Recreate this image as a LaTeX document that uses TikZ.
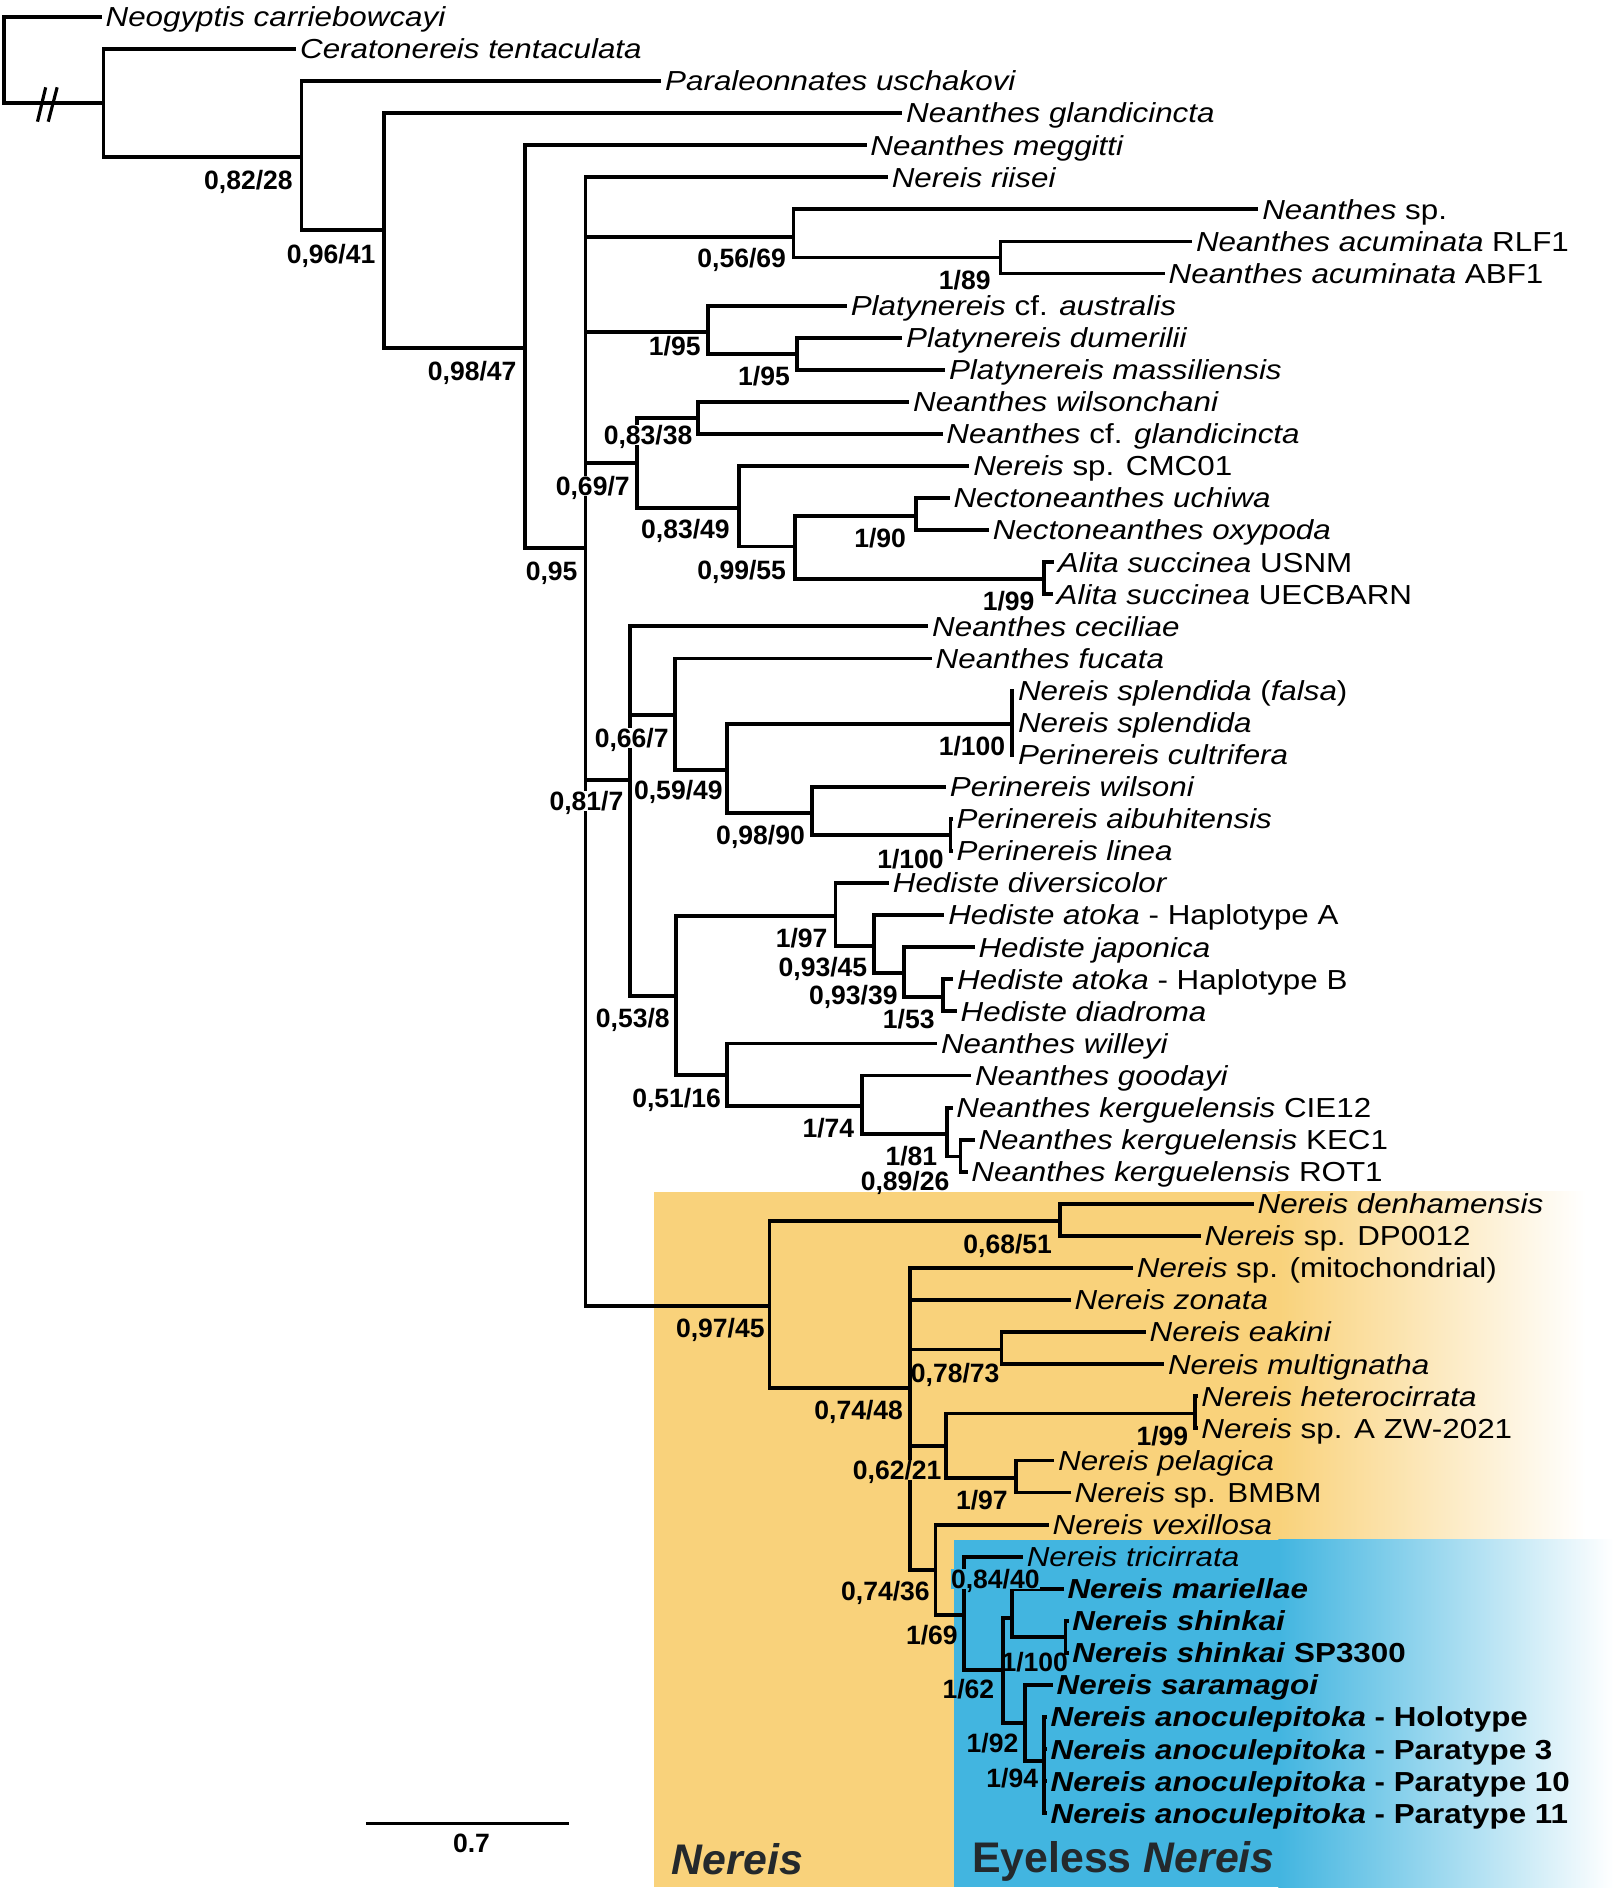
\documentclass[tikz,border=0pt]{standalone}
\usepackage{fontspec}
\setmainfont{Liberation Sans}[FakeStretch=1.14]
\newfontfamily\plainsans{Liberation Sans}
\definecolor{nereisorange}{HTML}{F9D27B}
\definecolor{eyelessblue}{HTML}{42B5E0}
\definecolor{cladeink}{HTML}{24292C}
\newcommand{\taxfont}{\fontsize{22.8}{24}\selectfont\itshape}
\newcommand{\suppfont}{\plainsans\bfseries\fontsize{22}{24}\selectfont}
\newcommand{\cladefont}{\plainsans\bfseries\fontsize{35.5}{38}\selectfont}

\begin{document}
\begin{tikzpicture}[x=1pt, y=-1pt,
  br/.style={line width=3.2pt},
  taxon/.style={anchor=west, inner xsep=3pt, inner ysep=0pt, text height=16.3pt,
                text depth=0pt, font=\taxfont},
  supp/.style={inner sep=0.4pt, text height=15.8pt, text depth=0pt, font=\suppfont},
  clade/.style={anchor=base west, inner sep=0pt, text=cladeink, font=\cladefont}
]
\useasboundingbox (0,0) rectangle (1338,1568);

% clade backgrounds
\fill[nereisorange] (542.4,988) rectangle (1061,1565);
\shade[left color=nereisorange, right color=white] (1060,988) rectangle (1315,1565);
\fill[eyelessblue] (791,1276.6) rectangle (1061,1565);
\shade[left color=eyelessblue, right color=white] (1060,1276.6) rectangle (1338,1565);

% taxa
\node[taxon] (neo)   at (84.4,14)      {Neogyptis carriebowcayi};
\node[taxon] (cera)  at (245.7,40.6)   {Ceratonereis tentaculata};
\node[taxon] (para)  at (548.4,67.2)   {Paraleonnates uschakovi};
\node[taxon] (gland) at (748.2,93.8)   {Neanthes glandicincta};
\node[taxon] (megg)  at (718.6,120.4)  {Neanthes meggitti};
\node[taxon] (riis)  at (736.3,147)    {Nereis riisei};
\node[taxon] (nsp)   at (1043.5,173.6) {Neanthes \textup{sp.}};
\node[taxon] (acuR)  at (988.5,200.2)  {Neanthes acuminata \textup{RLF1}};
\node[taxon] (acuA)  at (965.9,226.8)  {Neanthes acuminata \textup{ABF1}};
\node[taxon] (plaA)  at (702.3,253.4)  {Platynereis \textup{cf.} australis};
\node[taxon] (plaD)  at (748.2,280)    {Platynereis dumerilii};
\node[taxon] (plaM)  at (783.7,306.6)  {Platynereis massiliensis};
\node[taxon] (wils)  at (754,333.2)    {Neanthes wilsonchani};
\node[taxon] (cfgl)  at (781.6,359.8)  {Neanthes \textup{cf.} glandicincta};
\node[taxon] (cmc)   at (803.8,386.4)  {Nereis \textup{sp. CMC01}};
\node[taxon] (uchi)  at (787.5,413)    {Nectoneanthes uchiwa};
\node[taxon] (oxyp)  at (820,439.6)    {Nectoneanthes oxypoda};
\node[taxon] (aliU)  at (874,466.2)    {Alita succinea \textup{USNM}};
\node[taxon] (aliE)  at (873,492.8)    {Alita succinea \textup{UECBARN}};
\node[taxon] (ceci)  at (769.8,519.4)  {Neanthes ceciliae};
\node[taxon] (fuca)  at (772.7,546)    {Neanthes fucata};
\node[taxon] (splF)  at (841,572.6)    {Nereis splendida \textup{(}falsa\textup{)}};
\node[taxon] (splE)  at (841,599.2)    {Nereis splendida};
\node[taxon] (cult)  at (841,625.8)    {Perinereis cultrifera};
\node[taxon] (pwil)  at (784.5,652.4)  {Perinereis wilsoni};
\node[taxon] (aibu)  at (790,679)      {Perinereis aibuhitensis};
\node[taxon] (plin)  at (790,705.6)    {Perinereis linea};
\node[taxon] (dive)  at (737.2,732.2)  {Hediste diversicolor};
\node[taxon] (atoA)  at (783.1,758.8)  {Hediste atoka \textup{- Haplotype A}};
\node[taxon] (japo)  at (808.2,785.4)  {Hediste japonica};
\node[taxon] (atoB)  at (790.5,812)    {Hediste atoka \textup{- Haplotype B}};
\node[taxon] (diad)  at (793.4,838.6)  {Hediste diadroma};
\node[taxon] (wlly)  at (777.1,865.2)  {Neanthes willeyi};
\node[taxon] (good)  at (805.3,891.8)  {Neanthes goodayi};
\node[taxon] (kCIE)  at (789.9,918.4)  {Neanthes kerguelensis \textup{CIE12}};
\node[taxon] (kKEC)  at (808.2,945)    {Neanthes kerguelensis \textup{KEC1}};
\node[taxon] (kROT)  at (802.3,971.6)  {Neanthes kerguelensis \textup{ROT1}};
\node[taxon] (denh)  at (1039.6,998.2) {Nereis denhamensis};
\node[taxon] (dp12)  at (995.6,1024.8) {Nereis \textup{sp. DP0012}};
\node[taxon] (mito)  at (939.5,1051.4) {Nereis \textup{sp. (mitochondrial)}};
\node[taxon] (zona)  at (887.9,1078)   {Nereis zonata};
\node[taxon] (eaki)  at (950.1,1104.6) {Nereis eakini};
\node[taxon] (mult)  at (965.3,1131.2) {Nereis multignatha};
\node[taxon] (hete)  at (993,1157.8)   {Nereis heterocirrata};
\node[taxon] (zw21)  at (993,1184.4)   {Nereis \textup{sp. A ZW-2021}};
\node[taxon] (pela)  at (874.2,1211)   {Nereis pelagica};
\node[taxon] (bmbm)  at (887.9,1237.6) {Nereis \textup{sp. BMBM}};
\node[taxon] (vexi)  at (869.7,1264.2) {Nereis vexillosa};
\node[taxon] (tric)  at (848.2,1290.8) {Nereis tricirrata};
\node[taxon] (mari)  at (882,1317.4)   {\bfseries Nereis mariellae};
\node[taxon] (shin)  at (886,1344)     {\bfseries Nereis shinkai};
\node[taxon] (shSP)  at (886,1370.6)   {\bfseries Nereis shinkai \textup{SP3300}};
\node[taxon] (sara)  at (873,1397.2)   {\bfseries Nereis saramagoi};
\node[taxon] (holo)  at (868,1423.8)   {\bfseries Nereis anoculepitoka \textup{- Holotype}};
\node[taxon] (pt3)   at (868,1450.4)   {\bfseries Nereis anoculepitoka \textup{- Paratype 3}};
\node[taxon] (pt10)  at (868,1477)     {\bfseries Nereis anoculepitoka \textup{- Paratype 10}};
\node[taxon] (pt11)  at (868,1503.6)   {\bfseries Nereis anoculepitoka \textup{- Paratype 11}};

% internal nodes
\coordinate (root)   at (3.6,50);
\coordinate (nout)   at (85.8,85.7);
\coordinate (n8228)  at (250,129.9);
\coordinate (n9641)  at (318.2,190.7);
\coordinate (n9847)  at (435.5,288.8);
\coordinate (n95)    at (485.5,454.6);
\coordinate (n5669)  at (658,196.2);
\coordinate (n189)   at (829.6,213.5);
\coordinate (n195a)  at (586.8,275);
\coordinate (n195b)  at (660.8,293.3);
\coordinate (n697)   at (527.9,384.1);
\coordinate (n8338)  at (578.8,346.5);
\coordinate (n8349)  at (612.8,421.4);
\coordinate (n9955)  at (659.3,453.2);
\coordinate (n190)   at (759.4,427.8);
\coordinate (n199a)  at (866,480);
\coordinate (n817)   at (522.6,646.6);
\coordinate (n667)   at (559.5,592.7);
\coordinate (n5949)  at (602.5,638.3);
\coordinate (n1100a) at (839.3,600);
\coordinate (n9890)  at (673.5,674.3);
\coordinate (n1100b) at (788.1,692.3);
\coordinate (n538)   at (560.4,826.2);
\coordinate (n197a)  at (692.8,759.4);
\coordinate (n9345)  at (724.7,784.2);
\coordinate (n9339)  at (749.9,806.9);
\coordinate (n153)   at (781.6,826.5);
\coordinate (n5116)  at (603.1,891.2);
\coordinate (n174)   at (715,916.9);
\coordinate (n181)   at (785.1,940.3);
\coordinate (n8926)  at (796.4,959);
\coordinate (n9745)  at (638,1082.7);
\coordinate (n6851)  at (878.8,1012.5);
\coordinate (n7448)  at (754.3,1150.9);
\coordinate (n7873)  at (830.4,1119);
\coordinate (n6221)  at (784.5,1199.3);
\coordinate (n199b)  at (991.1,1172);
\coordinate (n197b)  at (842.3,1225.5);
\coordinate (n7436)  at (775.7,1301.5);
\coordinate (n169)   at (799.3,1338.8);
\coordinate (n162)   at (831.9,1384.4);
\coordinate (n8440)  at (839.3,1341.6);
\coordinate (n1100c) at (883.5,1357.3);
\coordinate (n192)   at (849.7,1428.6);
\coordinate (n194)   at (866,1460);

% branches
\draw[br] (root) |- (neo.west) (root) |- (nout);
\draw[br] (nout) |- (cera.west) (nout) |- (n8228);
\draw[br] (n8228) |- (para.west) (n8228) |- (n9641);
\draw[br] (n9641) |- (gland.west) (n9641) |- (n9847);
\draw[br] (n9847) |- (megg.west) (n9847) |- (n95);
\draw[br] (n95) |- (riis.west) (n95) |- (n5669) (n95) |- (n195a) (n95) |- (n697)
  (n95) |- (n817) (n95) |- (n9745);
\draw[br] (n5669) |- (nsp.west) (n5669) |- (n189);
\draw[br] (n189) |- (acuR.west) (n189) |- (acuA.west);
\draw[br] (n195a) |- (plaA.west) (n195a) |- (n195b);
\draw[br] (n195b) |- (plaD.west) (n195b) |- (plaM.west);
\draw[br] (n697) |- (n8338) (n697) |- (n8349);
\draw[br] (n8338) |- (wils.west) (n8338) |- (cfgl.west);
\draw[br] (n8349) |- (cmc.west) (n8349) |- (n9955);
\draw[br] (n9955) |- (n190) (n9955) |- (n199a);
\draw[br] (n190) |- (uchi.west) (n190) |- (oxyp.west);
\draw[br] (n199a) |- (aliU.west) (n199a) |- (aliE.west);
\draw[br] (n817) |- (ceci.west) (n817) |- (n667) (n817) |- (n538);
\draw[br] (n667) |- (fuca.west) (n667) |- (n5949);
\draw[br] (n5949) |- (n1100a) (n5949) |- (n9890);
\draw[br] (n1100a) |- (splF.west) (n1100a) |- (splE.west) (n1100a) |- (cult.west);
\draw[br] (n9890) |- (pwil.west) (n9890) |- (n1100b);
\draw[br] (n1100b) |- (aibu.west) (n1100b) |- (plin.west);
\draw[br] (n538) |- (n197a) (n538) |- (n5116);
\draw[br] (n197a) |- (dive.west) (n197a) |- (n9345);
\draw[br] (n9345) |- (atoA.west) (n9345) |- (n9339);
\draw[br] (n9339) |- (japo.west) (n9339) |- (n153);
\draw[br] (n153) |- (atoB.west) (n153) |- (diad.west);
\draw[br] (n5116) |- (wlly.west) (n5116) |- (n174);
\draw[br] (n174) |- (good.west) (n174) |- (n181);
\draw[br] (n181) |- (kCIE.west) (n181) |- (n8926);
\draw[br] (n8926) |- (kKEC.west) (n8926) |- (kROT.west);
\draw[br] (n9745) |- (n6851) (n9745) |- (n7448);
\draw[br] (n6851) |- (denh.west) (n6851) |- (dp12.west);
\draw[br] (n7448) |- (mito.west) (n7448) |- (zona.west) (n7448) |- (n7873)
  (n7448) |- (n6221) (n7448) |- (n7436);
\draw[br] (n7873) |- (eaki.west) (n7873) |- (mult.west);
\draw[br] (n6221) |- (n199b) (n6221) |- (n197b);
\draw[br] (n199b) |- (hete.west) (n199b) |- (zw21.west);
\draw[br] (n197b) |- (pela.west) (n197b) |- (bmbm.west);
\draw[br] (n7436) |- (vexi.west) (n7436) |- (n169);
\draw[br] (n169) |- (tric.west) (n169) |- (n162);
\draw[br] (n162) |- (n8440) (n162) |- (n192);
\draw[br] (n8440) |- (mari.west) (n8440) |- (n1100c);
\draw[br] (n1100c) |- (shin.west) (n1100c) |- (shSP.west);
\draw[br] (n192) |- (sara.west) (n192) |- (n194);
\draw[br] (n194) |- (holo.west) (n194) |- (pt3.west) (n194) |- (pt10.west) (n194) |- (pt11.west);
\draw[line width=2.6pt] (31.1,100.9) -- (37.9,72.4) (40,100.9) -- (47.4,72.4);

% support values
\node[supp] (s8228)  at (206,149)      {0,82/28};
\node[supp] (s9641)  at (274.5,210.5)  {0,96/41};
\node[supp] (s9847)  at (391.5,307.5)  {0,98/47};
\node[supp] (s95)    at (457.4,473.2)  {0,95};
\node[supp] (s5669)  at (615,213.5)    {0,56/69};
\node[supp] (s189)   at (800,232.5)    {1/89};
\node[supp] (s195a)  at (559.5,286.5)  {1/95};
\node[supp] (s195b)  at (633.5,312)    {1/95};
\node[supp, fill=white] (s8338) at (537.4,361) {0,83/38};
\node[supp, fill=white] (s697)  at (491.5,403) {0,69/7};
\node[supp] (s8349)  at (568.4,439)    {0,83/49};
\node[supp] (s9955)  at (615,472.5)    {0,99/55};
\node[supp] (s190)   at (729.8,446)    {1/90};
\node[supp] (s199a)  at (836.3,498.5)  {1/99};
\node[supp, fill=white] (s667)  at (523.8,611.8) {0,66/7};
\node[supp, fill=white] (s817)  at (486.3,664.5) {0,81/7};
\node[supp] (s5949)  at (562.5,655)    {0,59/49};
\node[supp] (s1100a) at (806,618.5)    {1/100};
\node[supp] (s9890)  at (630.6,692.2)  {0,98/90};
\node[supp] (s1100b) at (755,712.5)    {1/100};
\node[supp] (s538)   at (524.7,844)    {0,53/8};
\node[supp] (s197a)  at (664.7,777.6)  {1/97};
\node[supp] (s9345)  at (682.4,802.2)  {0,93/45};
\node[supp] (s9339)  at (707.6,824.9)  {0,93/39};
\node[supp] (s153)   at (753.5,845.1)  {1/53};
\node[supp] (s5116)  at (561,910.2)    {0,51/16};
\node[supp] (s174)   at (686.9,935.1)  {1/74};
\node[supp] (s181)   at (755.7,958.5)  {1/81};
\node[supp] (s8926)  at (750.5,979.3)  {0,89/26};
\node[supp] (s9745)  at (597.3,1100.9) {0,97/45};
\node[supp] (s6851)  at (835.6,1031.8) {0,68/51};
\node[supp] (s7448)  at (712,1169)     {0,74/48};
\node[supp] (s7873)  at (792,1138.2)   {0,78/73};
\node[supp, fill=nereisorange] (s6221) at (743.9,1218.5) {0,62/21};
\node[supp] (s199b)  at (963.8,1190.7) {1/99};
\node[supp] (s197b)  at (814.2,1243.6) {1/97};
\node[supp] (s7436)  at (734.2,1319.6) {0,74/36};
\node[supp, fill=eyelessblue] (s8440) at (825.3,1309.5) {0,84/40};
\node[supp] (s169)   at (772.7,1355.8) {1/69};
\node[supp] (s1100c) at (858,1378)     {1/100};
\node[supp] (s162)   at (803,1400.7)   {1/62};
\node[supp] (s192)   at (823,1445.5)   {1/92};
\node[supp] (s194)   at (839.3,1474.6) {1/94};

% clade names
\node[clade] (lblner) at (557,1554.4) {\itshape Nereis};
\node[clade] (lbleye) at (806,1553)   {Eyeless \textit{Nereis}};

% scale bar
\coordinate (sb0) at (303.4,1512);
\coordinate (sb1) at (471.4,1512);
\draw[br] (sb0) -- (sb1);
\node[supp] (sblbl) at (391,1528) {0.7};
\end{tikzpicture}
\end{document}
